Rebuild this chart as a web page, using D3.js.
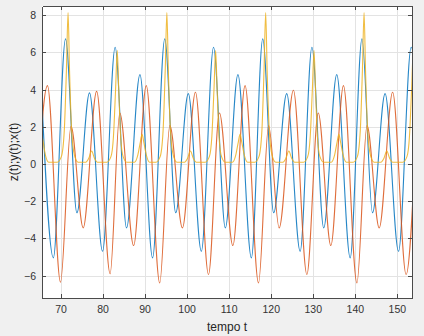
<!DOCTYPE html>
<html lang="en">
<head>
    <meta charset="UTF-8">
    <title>z(t);y(t);x(t)</title>
    <script src="https://d3js.org/d3.v7.min.js"></script>
    <style>
        body {
            margin: 0;
            padding: 0;
            background-color: #f0f0f0;
            font-family: "Liberation Sans", Arial, sans-serif;
        }

        .axis text {
            font-size: 10.5px;
            fill: #333;
        }

        .axis path,
        .axis line {
            stroke: #4a4a4a;
            shape-rendering: crispEdges;
        }

        .grid line {
            stroke: #e3e3e3;
            shape-rendering: crispEdges;
        }

        .grid path {
            display: none;
        }

        .label {
            font-size: 12px;
            fill: #262626;
        }

        .series {
            fill: none;
            stroke-width: 1.1;
            stroke-opacity: 0.85;
        }
    </style>
</head>
<body>

<svg id="chart"></svg>

<script>
    const width = 424;
    const height = 336;
    const margin = { top: 6, right: 12, bottom: 38, left: 42 };

    // blue series: extrema (t, value)
    const blueT = [65.3, 68.3, 71.2, 73.9, 76.9, 80.0, 83.0, 85.7, 88.9, 91.9, 94.8, 97.4,
        100.4, 103.5, 106.4, 109.2, 112.2, 115.4, 118.1, 120.7, 123.8, 127.0, 129.8, 132.6,
        135.7, 138.9, 141.7, 144.2, 147.2, 150.4, 153.4, 156.2];
    const blueV = [4.81, -5.04, 6.73, -2.62, 3.83, -4.69, 6.28, -3.43, 4.81, -5.04, 6.73, -2.62,
        3.79, -4.69, 6.28, -3.43, 4.81, -5.04, 6.73, -2.62, 3.79, -4.69, 6.28, -3.43,
        4.81, -5.04, 6.73, -2.62, 3.79, -4.69, 6.28, -3.43];

    // orange series
    const orangeT = [63.8, 66.9, 70.0, 72.5, 75.4, 78.6, 81.8, 84.1, 87.4, 90.4, 93.6, 96.0,
        99.0, 102.1, 105.2, 107.8, 111.0, 113.9, 117.1, 119.5, 122.0, 125.4, 128.6, 131.3,
        134.3, 137.3, 140.5, 142.9, 145.8, 149.0, 152.2, 154.8];
    const orangeV = [-4.38, 4.22, -6.35, 2.03, -3.43, 3.91, -5.90, 2.75, -4.38, 4.22, -6.39, 2.07,
        -3.43, 3.86, -5.94, 2.75, -4.38, 4.22, -6.39, 2.07, -3.43, 3.97, -5.94, 2.75,
        -4.38, 4.22, -6.39, 2.07, -3.43, 3.86, -5.94, 2.75];

    // yellow series: flat baseline with spikes and small bumps
    const yellowT = [64.0, 64.8, 65.4, 65.8, 66.4, 67.2,
        69.2, 70.2, 70.9, 71.4, 71.8, 72.15, 72.65, 73.3, 74.2,
        76.0, 76.7, 77.4, 78.1, 78.8,
        81.0, 82.0, 82.6, 83.1, 83.5, 83.85, 84.3, 84.9, 85.8,
        87.6, 88.4, 89.0, 89.4, 89.8, 90.4, 91.2,
        92.7, 93.7, 94.4, 94.9, 95.3, 95.65, 96.15, 96.8, 97.7,
        99.5, 100.2, 100.9, 101.6, 102.3,
        104.4, 105.4, 106.0, 106.5, 106.9, 107.25, 107.7, 108.3, 109.2,
        110.9, 111.7, 112.3, 112.7, 113.1, 113.7, 114.5,
        116.2, 117.2, 117.9, 118.4, 118.8, 119.15, 119.65, 120.3, 121.2,
        122.9, 123.6, 124.3, 125.0, 125.7,
        127.8, 128.8, 129.4, 129.9, 130.3, 130.65, 131.1, 131.7, 132.6,
        134.4, 135.2, 135.8, 136.2, 136.6, 137.2, 138.0,
        139.6, 140.6, 141.3, 141.8, 142.2, 142.55, 143.05, 143.7, 144.6,
        146.2, 146.9, 147.6, 148.3, 149.0,
        151.4, 152.4, 153.0, 153.5, 153.9, 154.25];
    const yellowV = [0.5, 1.4, 1.7, 1.3, 0.5, 0.1,
        0.1, 0.4, 1.8, 5.0, 8.15, 5.0, 1.8, 0.5, 0.1,
        0.1, 0.3, 0.7, 0.3, 0.1,
        0.1, 0.4, 1.5, 4.0, 6.1, 4.0, 1.5, 0.4, 0.1,
        0.1, 0.5, 1.2, 1.6, 1.2, 0.5, 0.1,
        0.1, 0.4, 1.8, 5.0, 8.15, 5.0, 1.8, 0.5, 0.1,
        0.1, 0.3, 0.7, 0.3, 0.1,
        0.1, 0.4, 1.5, 4.0, 6.1, 4.0, 1.5, 0.4, 0.1,
        0.1, 0.5, 1.2, 1.6, 1.2, 0.5, 0.1,
        0.1, 0.4, 1.8, 5.0, 8.15, 5.0, 1.8, 0.5, 0.1,
        0.1, 0.3, 0.7, 0.3, 0.1,
        0.1, 0.4, 1.5, 4.0, 6.1, 4.0, 1.5, 0.4, 0.1,
        0.1, 0.5, 1.2, 1.6, 1.2, 0.5, 0.1,
        0.1, 0.4, 1.8, 5.0, 8.15, 5.0, 1.8, 0.5, 0.1,
        0.1, 0.3, 0.7, 0.3, 0.1,
        0.1, 0.4, 1.5, 4.0, 6.1, 4.0];

    const xTicks = [70, 80, 90, 100, 110, 120, 130, 140, 150];
    const yTicks = [-6, -4, -2, 0, 2, 4, 6, 8];
    const xDomain = [65.6, 153.6];
    const yDomain = [-7.2, 8.5];

    const series = [
        { t: blueT, v: blueV, color: "#0072BD" },
        { t: orangeT, v: orangeV, color: "#D95319" },
        { t: yellowT, v: yellowV, color: "#EDB120" }
    ];

    const svg = d3.select("#chart")
        .attr("width", width)
        .attr("height", height);

    const x = d3.scaleLinear()
        .domain(xDomain)
        .range([margin.left, width - margin.right]);

    const y = d3.scaleLinear()
        .domain(yDomain)
        .range([height - margin.bottom, margin.top]);

    const innerW = width - margin.left - margin.right;
    const innerH = height - margin.top - margin.bottom;

    // white axes area
    svg.append("rect")
        .attr("x", margin.left)
        .attr("y", margin.top)
        .attr("width", innerW)
        .attr("height", innerH)
        .attr("fill", "#fff");

    // grid
    svg.append("g")
        .attr("class", "grid")
        .attr("transform", `translate(0,${height - margin.bottom})`)
        .call(d3.axisBottom(x).tickValues(xTicks).tickSize(-innerH).tickFormat(""));

    svg.append("g")
        .attr("class", "grid")
        .attr("transform", `translate(${margin.left},0)`)
        .call(d3.axisLeft(y).tickValues(yTicks).tickSize(-innerW).tickFormat(""));

    svg.append("clipPath")
        .attr("id", "clip")
        .append("rect")
        .attr("x", margin.left)
        .attr("y", margin.top)
        .attr("width", innerW)
        .attr("height", innerH);

    const line = d3.line()
        .x(d => x(d[0]))
        .y(d => y(d[1]))
        .curve(d3.curveMonotoneX);

    svg.append("g")
        .attr("clip-path", "url(#clip)")
        .selectAll("path")
        .data(series)
        .join("path")
        .attr("class", "series")
        .attr("stroke", d => d.color)
        .attr("d", d => line(d.t.map((t, i) => [t, d.v[i]])));

    // axes with ticks pointing inward, box on
    svg.append("g")
        .attr("class", "axis")
        .attr("transform", `translate(0,${height - margin.bottom})`)
        .call(d3.axisBottom(x).tickValues(xTicks).tickSizeInner(-4).tickSizeOuter(0).tickPadding(8));

    svg.append("g")
        .attr("class", "axis")
        .attr("transform", `translate(${margin.left},0)`)
        .call(d3.axisLeft(y).tickValues(yTicks).tickSizeInner(-4).tickSizeOuter(0).tickPadding(6));

    svg.append("g")
        .attr("class", "axis")
        .attr("transform", `translate(0,${margin.top})`)
        .call(d3.axisTop(x).tickValues(xTicks).tickSizeInner(-4).tickSizeOuter(0).tickFormat(""));

    svg.append("g")
        .attr("class", "axis")
        .attr("transform", `translate(${width - margin.right},0)`)
        .call(d3.axisRight(y).tickValues(yTicks).tickSizeInner(-4).tickSizeOuter(0).tickFormat(""));

    svg.append("text")
        .attr("class", "label")
        .attr("x", margin.left + innerW / 2)
        .attr("y", height - 5)
        .attr("text-anchor", "middle")
        .text("tempo t");

    svg.append("text")
        .attr("class", "label")
        .attr("transform", `translate(18,${margin.top + innerH / 2}) rotate(-90)`)
        .attr("text-anchor", "middle")
        .text("z(t);y(t);x(t)");
</script>

</body>
</html>
